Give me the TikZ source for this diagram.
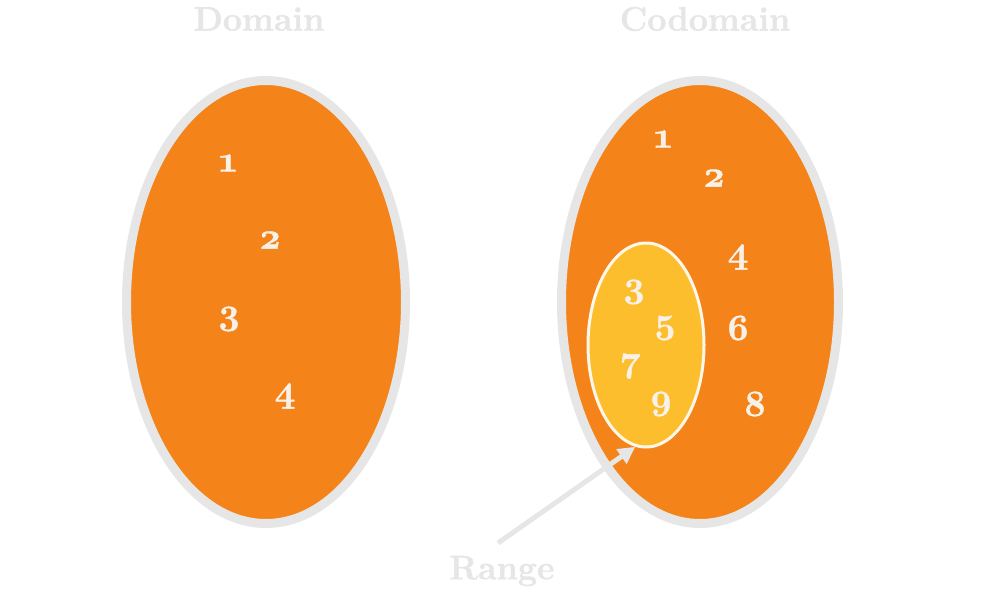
\documentclass[tikz,border=0pt]{standalone}
\usepackage{fontspec}
\setmainfont{Latin Modern Roman}[Numbers=OldStyle, BoldFeatures={FakeBold=1.2}]
\usetikzlibrary{arrows.meta,shapes.geometric}
\definecolor{ringgray}{HTML}{E6E6E6}
\definecolor{setorange}{HTML}{F4831A}
\definecolor{rangeyellow}{HTML}{FDBE2D}
\definecolor{rangeedge}{HTML}{FFF7EA}
\definecolor{numcol}{HTML}{F8F1E8}
\tikzset{
  setshape/.style={draw=ringgray, line width=9pt, fill=setorange},
  rangeshape/.style={ellipse, draw=rangeedge, line width=3pt, fill=rangeyellow, inner sep=0pt, minimum width=116pt, minimum height=204pt},
  title/.style={text=ringgray, font=\bfseries\fontsize{34}{34}\selectfont, inner sep=0pt},
  num/.style={text=numcol, font=\bfseries\fontsize{37}{37}\selectfont, inner sep=0pt},
  pointer/.style={draw=ringgray, line width=5pt, -{Triangle[length=17pt,width=17pt]}}
}
\begin{document}
\begin{tikzpicture}[x=1pt,y=-1pt]
\useasboundingbox (0,0) rectangle (1000,594);
% sets
\draw[setshape] (266,302) ellipse [x radius=139.5, y radius=221.5];
\draw[setshape] (700,302) ellipse [x radius=138.5, y radius=221.5];
\node[rangeshape] (rangeset) at (646,345) {};
% titles
\node[title] (domain) at (259,19) {Domain};
\node[title] (codomain) at (705,19) {Codomain};
\node[title] (range) at (502,571) {Range};
% domain numbers
\node[num] (d1) at (228,163) {1};
\node[num] (d2) at (270,240) {2};
\node[num] (d3) at (229,319) {3};
\node[num] (d4) at (285,396) {4};
% codomain numbers
\node[num] (c1) at (663,139) {1};
\node[num] (c2) at (714,178) {2};
\node[num] (c4) at (738,257) {4};
\node[num] (c6) at (738,328) {6};
\node[num] (c8) at (755,404) {8};
% range numbers
\node[num] (r3) at (634,292) {3};
\node[num] (r5) at (665,328) {5};
\node[num] (r7) at (631,366) {7};
\node[num] (r9) at (661,404) {9};
% pointer
\coordinate (ptail) at (498,543);
\draw[pointer] (ptail) -- (rangeset.264);
\end{tikzpicture}
\end{document}
